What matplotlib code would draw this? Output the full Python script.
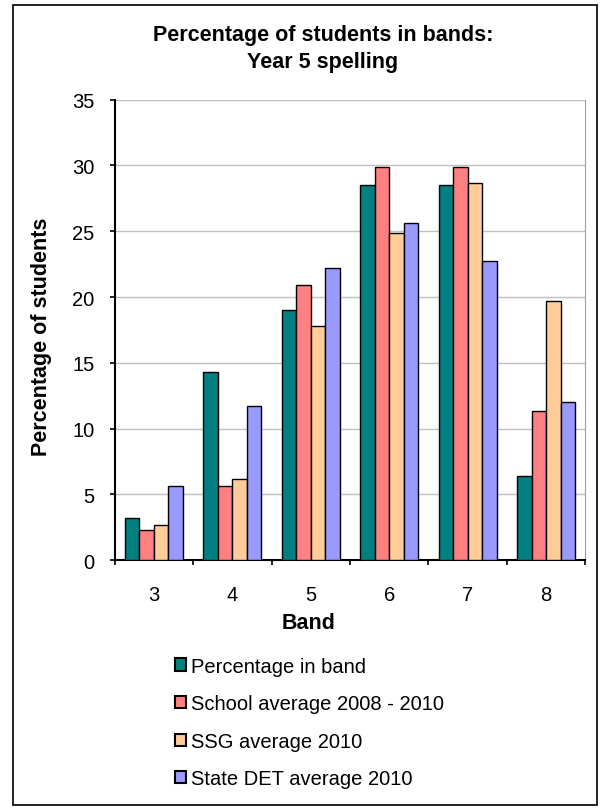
import numpy as np
import matplotlib
matplotlib.use("Agg")
import matplotlib.pyplot as plt
from matplotlib.patches import Rectangle

plt.rcParams['font.family'] = ['Liberation Sans', 'DejaVu Sans']

# data
bands = ['3', '4', '5', '6', '7', '8']
pct_in_band = [3.2, 14.3, 19.0, 28.5, 28.5, 6.4]
school_avg = [2.3, 5.6, 20.9, 29.9, 29.9, 11.3]
ssg_avg = [2.7, 6.2, 17.8, 24.9, 28.7, 19.7]
state_avg = [5.6, 11.7, 22.2, 25.6, 22.7, 12.0]

series_names = ['Percentage in band', 'School average 2008 - 2010',
                'SSG average 2010', 'State DET average 2010']
colors = ['#008080', '#FF8080', '#FFCC99', '#9999FF']

fig = plt.figure(figsize=(6.04, 8.12), dpi=100)
ax = fig.add_axes([0.190, 0.309, 0.779, 0.567])

x = np.arange(len(bands))
w = 0.185
allseries = [pct_in_band, school_avg, ssg_avg, state_avg]
handles = []
for i, vals in enumerate(allseries):
    b = ax.bar(x + (i - 1.5) * w, vals, w, color=colors[i], edgecolor='black',
               linewidth=1.0, label=series_names[i], zorder=3)
    handles.append(b)

ax.set_xlim(-0.5, len(bands) - 0.5)
ax.set_ylim(0, 35)
ax.set_yticks(range(0, 36, 5))
ax.yaxis.grid(True, color='#c0c0c0', linewidth=1.0, zorder=0)
ax.set_xticks(x)
ax.set_xticklabels(bands)
ax.set_xticks(np.arange(-0.5, len(bands), 1), minor=True)
ax.tick_params(axis='x', which='major', length=0, pad=18, labelsize=14.5)
ax.tick_params(axis='x', which='minor', length=3.6, width=1.2, direction='out')
ax.tick_params(axis='y', length=3.6, width=1.2, labelsize=14.5, pad=11)

ax.spines['top'].set_visible(False)
ax.spines['right'].set_color('#a0a0a0')
ax.spines['left'].set_linewidth(1.5)
ax.spines['bottom'].set_linewidth(1.5)

# axis titles placed where they sit in the original
fig.text(309 / 604, 1 - 629 / 812, 'Band', ha='center', va='baseline',
         fontsize=15.5, fontweight='bold')
fig.text(42 / 604, 1 - 337 / 812, 'Percentage of students', ha='center', va='center',
         rotation=90, fontsize=15.5, fontweight='bold')

fig.text(323 / 604, 1 - 49 / 812, 'Percentage of students in bands:\nYear 5 spelling',
         ha='center', va='center', fontsize=15.5, fontweight='bold', linespacing=1.42)

leg = fig.legend(handles=handles, loc='upper left', bbox_to_anchor=(0.276, 0.200),
                 frameon=False, fontsize=14.5, handlelength=0.55, handleheight=0.55,
                 handletextpad=0.25, labelspacing=0.92, borderaxespad=0)
for p in leg.get_patches():
    p.set_linewidth(1.5)

# outer chart border
fig.patches.append(Rectangle((0.021, 0.007), 0.968, 0.986, transform=fig.transFigure,
                             fill=False, edgecolor='black', linewidth=1.2))

fig.savefig('out.png', dpi=100)
